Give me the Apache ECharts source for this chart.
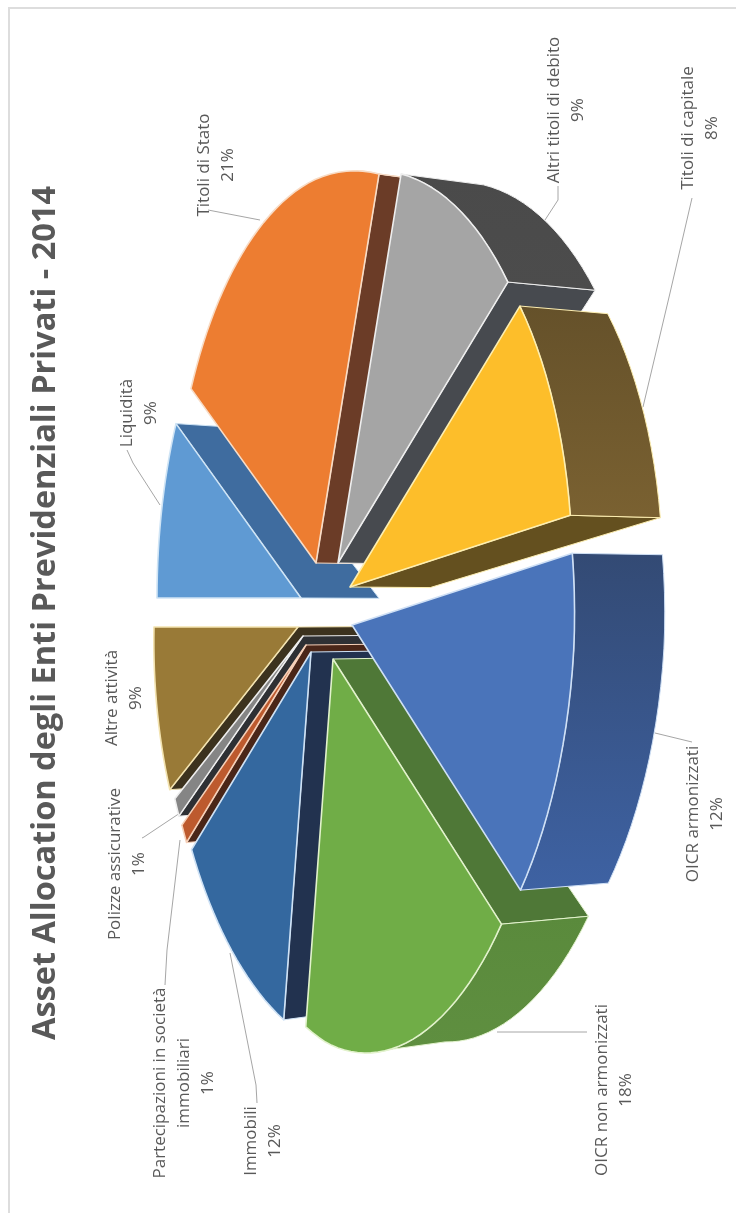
<!DOCTYPE html>
<html><head><meta charset="utf-8">
<style>html,body{margin:0;padding:0;background:#fff}#c{width:736px;height:1213px}</style>
<script src="https://cdn.jsdelivr.net/npm/echarts@6/dist/echarts.min.js"></script>
</head><body><div id="c"></div>
<script>
// ---- data
var categories = ['Liquidità','Titoli di Stato','Altri titoli di debito','Titoli di capitale','OICR armonizzati','OICR non armonizzati','Immobili','Partecipazioni in società immobiliari','Polizze assicurative','Altre attività'];
var shares = [9,21,9,8,12,18,12,1,1,9];
var titleText = 'Asset Allocation degli Enti Previdenziali Privati - 2014';

// ---- styles and layout, kept apart from the data
var topColors  = ['#5f9ad3','#ed7d31','#a5a5a5','#fdbe2a','#4a74ba','#70ad47','#34689f','#bd5a2e','#858585','#997a37'];
var edgeColors = ['#cfe4f5','#f8dcc6','#eeeeee','#fdeeb0','#cfe0f5','#e2f2cc','#cfe2f5','#f6d0b8','#eeeeee','#f3e3b0'];
var faceColors = ['#3f6c9f','#6b3c27','#474a4f','#64501f','#334a74','#4f7837','#22324f','#4a2618','#2e3034','#3c321e'];
var wallTop    = ['#3f6c9f','#6b3c27','#4a4a4a','#65512a','#334a74','#5a8a3c','#22324f','#4a2618','#4a4a4a','#5a4a24'];
var wallBottom = ['#3f6c9f','#6b3c27','#4c4c4c','#7a6131','#3e62a3','#5f8f40','#22324f','#4a2618','#4a4a4a','#5a4a24'];
var apexes = [[301,598],[316,563],[338,563],[350,587],[352,625],[333,659],[311,652],[306,645],[303,636],[298,627]];
var labelCenters = [[139,413],[216,165],[566,110],[700,128],[705,814],[614,1090],[263,1141],[184,1083],[127,864],[124,698]];
var labelLines = [['Liquidità'],['Titoli di Stato'],['Altri titoli di debito'],['Titoli di capitale'],['OICR armonizzati'],['OICR non armonizzati'],['Immobili'],['Partecipazioni in società','immobiliari'],['Polizze assicurative'],['Altre attività']];
var leaders = [
 [[127,450],[133,463],[160,505]],
 [[208,210],[260,220]],
 [[558,186],[558,200],[545,220]],
 [[692,198],[670,293],[643,407]],
 [[655,733],[692,742]],
 [[497,1032],[587,1032]],
 [[257,1103],[256,1085],[230,953]],
 [[165,985],[167,950],[180,840]],
 [[142,838],[144,837],[180,813]]
];
var Rx=174.7, Ry=384, K=0.213;
function project(a, apex){
  var u=-Math.cos(a), v=-Math.sin(a), s=1/(1-K*u);
  var bendY = 20*Math.pow(Math.max(u,0),2) - 26*Math.max(-u,0)*Math.max(v,0);
  var bendX = -18*v*Math.max(u,0) - 6*Math.max(v,0);
  return [apex[0]+Rx*u*s+bendX, apex[1]+Ry*v*s+bendY];
}
function sink(p){ return [p[0]+78+12*(p[0]-300)/270, p[1]+(610-p[1])*0.025]; }

var total = shares.reduce(function(s,x){return s+x;},0), cum=0;
var rows = shares.map(function(v,i){
  var a0=cum/total*2*Math.PI; cum+=v; var a1=cum/total*2*Math.PI;
  return {i:i,a0:a0,a1:a1,depth:-Math.cos((a0+a1)/2)};
}).sort(function(a,b){return a.depth-b.depth;});

function poly(points, fill, stroke, w, z){
  return {type:'polygon', z2:z, shape:{points:points}, style:{fill:fill, stroke:stroke, lineWidth:w, lineJoin:'round'}};
}
function renderSlice(params, api){
  var r=rows[params.dataIndex], i=r.i, apex=apexes[i], rim=[], n=Math.max(2,Math.ceil((r.a1-r.a0)/0.04));
  for(var k=0;k<=n;k++) rim.push(project(r.a0+(r.a1-r.a0)*k/n, apex));
  var kids=[], z=params.dataIndex*10, edge=edgeColors[i];
  var first=rim[0], last=rim[n];
  if(first[1]>apex[1]) kids.push(poly([apex,first,sink(first),sink(apex)],faceColors[i],edge,1,z));
  if(apex[1]>last[1]) kids.push(poly([last,apex,sink(apex),sink(last)],faceColors[i],edge,1,z));
  var vis=[];
  for(k=0;k<n;k++){ if(rim[k+1][1]>rim[k][1]){ if(!vis.length) vis.push(rim[k]); vis.push(rim[k+1]); } }
  if(vis.length>1){
    var lower=vis.map(sink).reverse();
    kids.push(poly(vis.concat(lower),{type:'linear',x:0,y:0,x2:0,y2:1,colorStops:[{offset:0,color:wallTop[i]},{offset:1,color:wallBottom[i]}]},edge,1,z+1));
  }
  kids.push(poly([apex].concat(rim),topColors[i],edge,1.6,z+2));
  return {type:'group',children:kids};
}

var graphics=[
 {type:'polyline',silent:true,shape:{points:[[736,8],[9,8],[9,1213]]},style:{stroke:'#dddddd',lineWidth:2,fill:null}},
 {type:'text',x:46,y:613,rotation:Math.PI/2,style:{text:titleText,font:'700 32.5px "Open Sans"',fill:'#595959',align:'center',verticalAlign:'middle'}}
];
categories.forEach(function(c,i){
  var pct=shares[i]+'%';
  graphics.push({type:'text',x:labelCenters[i][0],y:labelCenters[i][1],rotation:Math.PI/2,
    style:{text:labelLines[i].concat([pct]).join('\n'),font:'17px "Open Sans"',lineHeight:24,fill:'#595959',align:'center',verticalAlign:'middle'}});
});
leaders.forEach(function(p){
  graphics.push({type:'polyline',silent:true,shape:{points:p},style:{stroke:'#a6a6a6',lineWidth:1,fill:null}});
});

var chart=echarts.init(document.getElementById('c'),null,{renderer:'canvas'});
chart.setOption({
  animation:false,
  backgroundColor:'#ffffff',
  series:[{type:'custom',coordinateSystem:'none',silent:true,renderItem:renderSlice,
    data:rows.map(function(r){return {name:categories[r.i],value:shares[r.i]};})}],
  graphic:graphics
});
</script></body></html>
